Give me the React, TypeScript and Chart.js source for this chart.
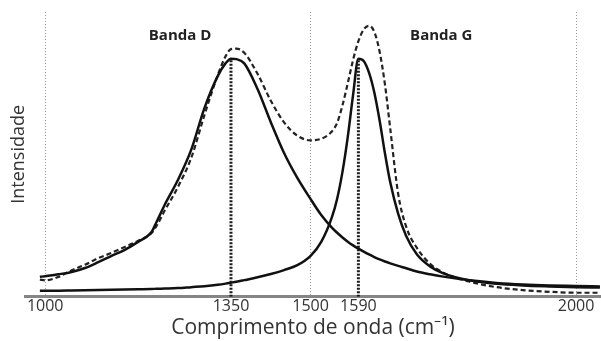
import { useEffect, useRef } from 'react';
import { Chart, registerables } from 'chart.js';

Chart.register(...registerables);

// Raman shift (cm-1) at which the three curves are sampled
const wavenumbers = [
  990, 1000, 1025, 1050, 1075, 1100, 1125, 1150, 1175, 1200, 1210, 1225, 1250, 1275, 1300, 1325,
  1340, 1350, 1360, 1375, 1400, 1425, 1450, 1475, 1500, 1520, 1540, 1550, 1560, 1570, 1580, 1590,
  1600, 1610, 1620, 1630, 1640, 1650, 1665, 1680, 1700, 1725, 1750, 1800, 1850, 1900, 1950, 2000, 2045,
];

// Fitted D band
const dBand = [
  0.065, 0.068, 0.076, 0.086, 0.103, 0.128, 0.155, 0.181, 0.215, 0.256, 0.301, 0.373, 0.48, 0.609, 0.788, 0.925,
  0.981, 1.0, 0.998, 0.98, 0.87, 0.728, 0.596, 0.489, 0.398, 0.33, 0.276, 0.254, 0.234, 0.216, 0.2, 0.186,
  0.173, 0.161, 0.15, 0.14, 0.131, 0.123, 0.112, 0.102, 0.088, 0.076, 0.066, 0.05, 0.039, 0.032, 0.028, 0.026, 0.024,
];

// Fitted G band
const gBand = [
  0.006, 0.006, 0.006, 0.007, 0.008, 0.009, 0.01, 0.011, 0.012, 0.013, 0.014, 0.015, 0.017, 0.021, 0.025, 0.031,
  0.036, 0.04, 0.044, 0.051, 0.063, 0.077, 0.094, 0.115, 0.155, 0.215, 0.32, 0.4, 0.515, 0.665, 0.845, 1.0,
  0.99, 0.94, 0.855, 0.735, 0.595, 0.47, 0.335, 0.24, 0.162, 0.11, 0.08, 0.05, 0.035, 0.028, 0.024, 0.021, 0.019,
];

// Measured spectrum (dashed)
const spectrum = [
  0.053, 0.05, 0.065, 0.093, 0.117, 0.145, 0.168, 0.193, 0.219, 0.252, 0.284, 0.348, 0.45, 0.574, 0.758, 0.929,
  1.011, 1.041, 1.043, 1.025, 0.935, 0.82, 0.727, 0.67, 0.65, 0.657, 0.688, 0.725, 0.8, 0.895, 0.995, 1.075,
  1.125, 1.141, 1.115, 1.03, 0.89, 0.7, 0.42, 0.28, 0.19, 0.121, 0.083, 0.044, 0.021, 0.008, 0.001, -0.003, -0.003,
];

const tickValues = [1000, 1350, 1500, 1590, 2000];
const gridValues = [1000, 1500, 2000];
const peakPositions = [1350, 1590];
const bandNames = ['Banda D', 'Banda G'];
const bandNameX = [1254, 1746];
const bandNameY = [1.1, 1.1];

const X_MIN = 962;
const X_MAX = 2047;
const Y_MIN = -0.02;
const Y_MAX = 1.2;

const FONT = '"Open Sans", sans-serif';

const toPoints = (ys: number[]) => wavenumbers.map((x, i) => ({ x, y: ys[i] }));

const peakHeight = (pos: number, band: number[]) => band[wavenumbers.indexOf(pos)];

const bandTitles = {
  id: 'bandTitles',
  afterDatasetsDraw(chart: any) {
    const { ctx, scales } = chart;
    ctx.save();
    ctx.font = `bold 15px ${FONT}`;
    ctx.fillStyle = '#222';
    ctx.textAlign = 'center';
    ctx.textBaseline = 'middle';
    bandNames.forEach((name, i) => {
      ctx.fillText(name, scales.x.getPixelForValue(bandNameX[i]), scales.y.getPixelForValue(bandNameY[i]));
    });
    ctx.restore();
  },
};

export default function App() {
  const canvasRef = useRef<HTMLCanvasElement | null>(null);

  useEffect(() => {
    if (!canvasRef.current) return;
    const markerLine = (pos: number, band: number[]) => ({
      data: [
        { x: pos, y: Y_MIN },
        { x: pos, y: peakHeight(pos, band) },
      ],
      borderColor: '#1a1a1a',
      borderWidth: 3,
      borderDash: [2, 1.5],
      pointRadius: 0,
      tension: 0,
    });

    const chart = new Chart(canvasRef.current, {
      type: 'line',
      data: {
        datasets: [
          markerLine(peakPositions[0], dBand),
          markerLine(peakPositions[1], gBand),
          {
            data: toPoints(gBand),
            borderColor: '#111',
            borderWidth: 2.5,
            pointRadius: 0,
            cubicInterpolationMode: 'monotone',
          },
          {
            data: toPoints(dBand),
            borderColor: '#111',
            borderWidth: 2.5,
            pointRadius: 0,
            cubicInterpolationMode: 'monotone',
          },
          {
            data: toPoints(spectrum),
            borderColor: '#222',
            borderWidth: 2.2,
            borderDash: [5, 3],
            pointRadius: 0,
            cubicInterpolationMode: 'monotone',
          },
        ],
      },
      options: {
        animation: false,
        responsive: true,
        maintainAspectRatio: false,
        layout: { padding: { top: 12, left: 0, right: 0, bottom: 0 } },
        plugins: {
          legend: { display: false },
          tooltip: { enabled: false },
        },
        scales: {
          x: {
            type: 'linear',
            min: X_MIN,
            max: X_MAX,
            afterBuildTicks: (axis: any) => {
              axis.ticks = tickValues.map((value) => ({ value }));
            },
            ticks: {
              padding: 0,
              color: '#333',
              font: { family: FONT, size: 16 },
              maxRotation: 0,
              autoSkip: false,
              callback: (value: any) => String(value),
            },
            grid: {
              drawTicks: false,
              lineWidth: 1,
              color: (ctx: any) => (ctx.tick && gridValues.includes(ctx.tick.value) ? '#9a9a9a' : 'rgba(0,0,0,0)'),
            },
            border: { display: true, color: '#858585', width: 3, dash: [1, 2] },
            title: {
              display: true,
              text: 'Comprimento de onda (cm\u207B\u00B9)',
              color: '#333',
              font: { family: FONT, size: 21, lineHeight: 1.1 },
              padding: { top: 1, bottom: 1 },
            },
          },
          y: {
            min: Y_MIN,
            max: Y_MAX,
            ticks: { display: false },
            grid: { display: false, drawTicks: false },
            border: { display: false },
            title: {
              display: true,
              text: 'Intensidade',
              color: '#333',
              font: { family: FONT, size: 18 },
              padding: { top: 8, bottom: -4.6 },
            },
          },
        },
      },
      plugins: [bandTitles],
    } as any);

    return () => chart.destroy();
  }, []);

  return (
    <div style={{ position: 'absolute', left: 0, top: 0, width: 601, height: 341, background: '#fff' }}>
      <canvas ref={canvasRef} />
    </div>
  );
}
